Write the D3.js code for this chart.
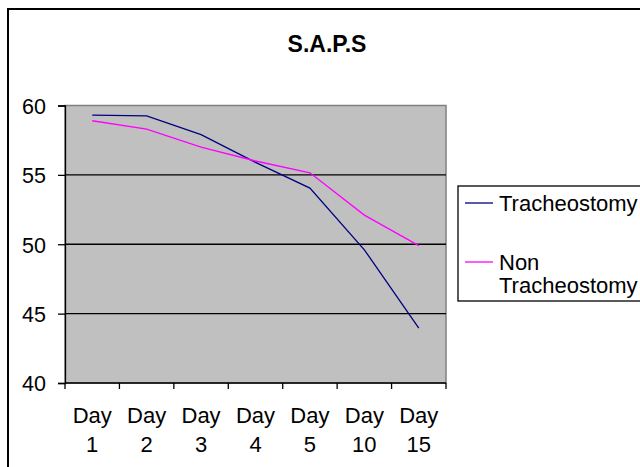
<!DOCTYPE html>
<html>
<head>
<meta charset="utf-8">
<script src="https://cdn.jsdelivr.net/npm/d3@7"></script>
<style>
  html, body { margin: 0; padding: 0; background: #fff; }
  svg { display: block; font-family: Arial, "Liberation Sans", sans-serif; }
</style>
</head>
<body>
<svg id="chart" width="640" height="467"></svg>
<script>
const categories = ["Day 1", "Day 2", "Day 3", "Day 4", "Day 5", "Day 10", "Day 15"];
const tracheostomy = [59.3, 59.25, 57.9, 55.9, 54.05, 49.6, 43.95];
const nonTracheostomy = [58.9, 58.3, 57.0, 56.0, 55.15, 52.1, 49.9];
const yTicks = [40, 45, 50, 55, 60];
const seriesNames = ["Tracheostomy", "Non Tracheostomy"];
const seriesColors = ["#000080", "#ff00ff"];

const svg = d3.select("#chart");
const FONT = "Arial, 'Liberation Sans', sans-serif";

// outer chart border
svg.append("rect").attr("x", 8).attr("y", 9).attr("width", 700).attr("height", 600)
  .attr("fill", "#fff").attr("stroke", "#000").attr("stroke-width", 2);

const plot = { left: 65, right: 446, top: 105.5, bottom: 383 };

const x = d3.scaleBand().domain(categories).range([plot.left, plot.right]).padding(0);
const y = d3.scaleLinear().domain([40, 60]).range([plot.bottom, plot.top]);

// plot background
svg.append("rect").attr("x", plot.left).attr("y", plot.top)
  .attr("width", plot.right - plot.left).attr("height", plot.bottom - plot.top)
  .attr("fill", "#c0c0c0").attr("stroke", "#808080").attr("stroke-width", 1.5);

// gridlines
svg.append("g").selectAll("line").data(yTicks.filter(t => t > 40 && t < 60)).join("line")
  .attr("x1", plot.left).attr("x2", plot.right)
  .attr("y1", d => y(d)).attr("y2", d => y(d))
  .attr("stroke", "#000").attr("stroke-width", 1.3);

// y axis
const yAxis = svg.append("g").attr("transform", `translate(${plot.left},0)`)
  .call(d3.axisLeft(y).tickValues(yTicks).tickSize(7).tickPadding(12).tickFormat(d3.format("d")));
yAxis.select(".domain").attr("stroke", "#000").attr("stroke-width", 1.3);
yAxis.selectAll(".tick line").attr("stroke", "#000").attr("stroke-width", 1.3);
yAxis.selectAll("text").attr("font-size", 21.5).attr("fill", "#000").attr("dy", "0.36em")
  .attr("font-family", FONT);

// x axis (ticks at band boundaries)
const xAxisG = svg.append("g");
xAxisG.append("line").attr("x1", plot.left).attr("x2", plot.right)
  .attr("y1", plot.bottom).attr("y2", plot.bottom).attr("stroke", "#000").attr("stroke-width", 1.3);
const boundaries = categories.map(c => x(c)).concat([x(categories[categories.length - 1]) + x.bandwidth()]);
xAxisG.selectAll("line.tick").data(boundaries).join("line").attr("class", "tick")
  .attr("x1", d => d).attr("x2", d => d)
  .attr("y1", plot.bottom).attr("y2", plot.bottom + 6)
  .attr("stroke", "#000").attr("stroke-width", 1.3);
const xl = xAxisG.selectAll("text").data(categories).join("text")
  .attr("text-anchor", "middle").attr("font-size", 22).attr("fill", "#000");
xl.append("tspan").attr("x", d => x(d) + x.bandwidth() / 2).attr("y", 423).text(d => d.split(" ")[0]);
xl.append("tspan").attr("x", d => x(d) + x.bandwidth() / 2).attr("y", 452).text(d => d.split(" ")[1]);

// lines
const line = d3.line().x((d, i) => x(categories[i]) + x.bandwidth() / 2).y(d => y(d));
[tracheostomy, nonTracheostomy].forEach((s, i) => {
  svg.append("path").datum(s).attr("d", line).attr("fill", "none")
    .attr("stroke", seriesColors[i]).attr("stroke-width", 1.3);
});

// title
svg.append("text").attr("x", 327).attr("y", 52).attr("text-anchor", "middle")
  .attr("font-size", 23).attr("font-weight", "bold").attr("fill", "#000").text("S.A.P.S");

// legend
const lg = svg.append("g");
lg.append("rect").attr("x", 458).attr("y", 186).attr("width", 200).attr("height", 115)
  .attr("fill", "#fff").attr("stroke", "#000").attr("stroke-width", 1.3);
const legendRows = [
  { lines: ["Tracheostomy"], y: 203 },
  { lines: ["Non"].concat(["Tracheostomy"]), y: 262 }
];
legendRows.forEach((r, i) => {
  lg.append("line").attr("x1", 465).attr("x2", 493).attr("y1", r.y).attr("y2", r.y)
    .attr("stroke", seriesColors[i]).attr("stroke-width", 1.3);
  const t = lg.append("text").attr("font-size", 22).attr("fill", "#000");
  r.lines.forEach((ln, j) => {
    t.append("tspan").attr("x", 499).attr("y", r.y + 8 + j * 23).text(ln);
  });
});
</script>
</body>
</html>
